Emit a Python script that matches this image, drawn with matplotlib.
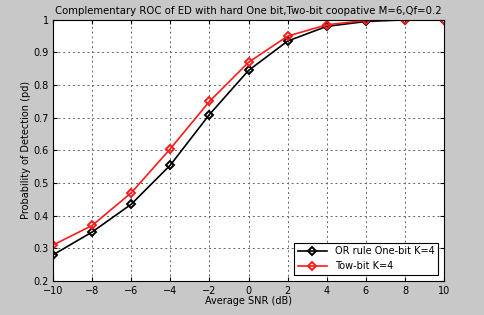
import matplotlib
matplotlib.use("Agg")
import matplotlib.pyplot as plt

snr = [-10, -8, -6, -4, -2, 0, 2, 4, 6, 8, 10]
pd_or = [0.28, 0.35, 0.435, 0.555, 0.71, 0.845, 0.935, 0.98, 0.995, 1.0, 1.0]
pd_two = [0.31, 0.37, 0.47, 0.605, 0.75, 0.87, 0.95, 0.985, 0.998, 1.0, 1.0]

BG = "#c8c8c8"
fig = plt.figure(figsize=(4.84, 3.15), dpi=100, facecolor=BG)
ax = fig.add_axes([0.1095, 0.108, 0.808, 0.829])

ax.plot(snr, pd_or, color="black", lw=1.2, marker="D", ms=4.5, mfc="none", mew=1.4,
        label="OR rule One-bit K=4")
ax.plot(snr, pd_two, color="#ff1a1a", lw=1.2, marker="D", ms=4.5, mfc="none", mew=1.4,
        label="Tow-bit K=4")

ax.set_xlim(-10, 10); ax.set_ylim(0.2, 1)
ax.set_xticks(range(-10, 11, 2))
ax.set_yticks([0.2, 0.3, 0.4, 0.5, 0.6, 0.7, 0.8, 0.9, 1])
ax.set_yticklabels(["0.2", "0.3", "0.4", "0.5", "0.6", "0.7", "0.8", "0.9", "1"])
ax.grid(True, color="0.4", ls=(0, (2, 3)), lw=0.7)
ax.tick_params(labelsize=7, direction="in", length=3, top=True, right=True)
ax.tick_params(axis="x", pad=3.5)
ax.tick_params(axis="y", pad=3)
ax.set_xlabel("Average SNR (dB)", fontsize=7, labelpad=0)
ax.set_ylabel("Probability of Detection (pd)", fontsize=7, labelpad=2)
ax.set_title("Complementary ROC of ED with hard One bit,Two-bit coopative M=6,Qf=0.2",
             fontsize=7.3, pad=4)
leg = ax.legend(loc="lower right", fontsize=7, fancybox=False, framealpha=1,
                edgecolor="black", handlelength=3, borderaxespad=0.6)
leg.get_frame().set_linewidth(0.8)

fig.savefig("out.png", dpi=100, facecolor=BG)
